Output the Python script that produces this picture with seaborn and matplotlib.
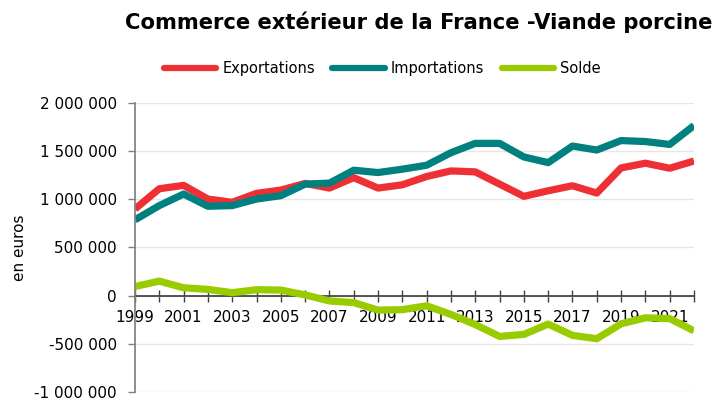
import matplotlib
matplotlib.use("Agg")
import matplotlib.pyplot as plt
import matplotlib.ticker as mticker
from matplotlib.lines import Line2D
import seaborn as sns
import pandas as pd

years = list(range(1999, 2023))
exportations = [900000, 1110000, 1145000, 1003000, 969000, 1062000, 1096000, 1165000,
                1117000, 1225000, 1117000, 1151000, 1237000, 1295000, 1285000, 1158000,
                1031000, 1089000, 1141000, 1065000, 1326000, 1375000, 1323000, 1398000]
importations = [787000, 935000, 1055000, 928000, 935000, 1003000, 1038000, 1158000,
                1168000, 1302000, 1278000, 1313000, 1354000, 1484000, 1581000, 1581000,
                1440000, 1381000, 1553000, 1512000, 1610000, 1600000, 1570000, 1766000]
solde = [95000, 151000, 82000, 65000, 31000, 62000, 58000, 8000,
         -55000, -72000, -150000, -145000, -105000, -195000, -300000, -423000,
         -402000, -295000, -412000, -447000, -292000, -230000, -238000, -365000]
series_names = ["Exportations", "Importations", "Solde"]
colors = ["#EE3035", "#00807F", "#99CC00"]

df = pd.DataFrame({"Année": years, "Exportations": exportations,
                   "Importations": importations, "Solde": solde})
long = df.melt(id_vars="Année", var_name="Série", value_name="Valeur")

sns.set_theme(style="white")
plt.rcParams["font.family"] = ["DejaVu Sans"]
plt.rcParams["text.color"] = "black"
plt.rcParams["axes.labelcolor"] = "black"
plt.rcParams["xtick.color"] = "black"
plt.rcParams["ytick.color"] = "black"

fig = plt.figure(figsize=(7.17, 4.01), dpi=100)
# axes: x 135..694 px, y 103..392 px
ax = fig.add_axes([135 / 717, 1 - 392 / 401, (694 - 135) / 717, (392 - 103) / 401])

sns.lineplot(data=long, x="Année", y="Valeur", hue="Série", hue_order=series_names,
             palette=colors, linewidth=5.2, ax=ax, legend=False, solid_capstyle="butt")

ax.set_xlim(1999, 2022)
ax.set_ylim(-1000000, 2000000)
ax.yaxis.set_major_locator(mticker.MultipleLocator(500000))
ax.yaxis.set_major_formatter(mticker.FuncFormatter(
    lambda v, p: "{:,.0f}".format(v).replace(",", " ")))
ax.set_xticks(years)
ax.set_xticklabels([str(y) if (y - 1999) % 2 == 0 else "" for y in years])

ax.grid(axis="y", color="#E6E6E6", linewidth=1)
ax.set_axisbelow(True)
for s in ["top", "right"]:
    ax.spines[s].set_visible(False)
ax.spines["bottom"].set_position(("data", 0))
ax.spines["bottom"].set_color("#404040")
ax.spines["left"].set_color("#808080")
ax.spines["bottom"].set_zorder(1)

ax.tick_params(axis="x", direction="inout", length=9, width=1, color="#404040",
               labelcolor="black", labelsize=11, pad=6, bottom=True)
ax.tick_params(axis="y", direction="out", length=5, width=1, color="#808080",
               labelcolor="black", labelsize=11, pad=8, left=True)
ax.set_xlabel("")
ax.set_ylabel("en euros", fontsize=11, labelpad=5, color="black")

fig.text(0.584, 0.945, "Commerce extérieur de la France -Viande porcine",
         ha="center", va="center", fontsize=15.2, fontweight="bold", color="black")

handles = [Line2D([0], [0], color=c, linewidth=4.5) for c in colors]
leg = fig.legend(handles, series_names, loc="center", bbox_to_anchor=(0.533, 0.83),
                 ncol=3, frameon=False, fontsize=10.5, handlelength=3.6,
                 handletextpad=0.4, columnspacing=1.2)
for t in leg.get_texts():
    t.set_color("black")

fig.savefig("out.png", dpi=100)
